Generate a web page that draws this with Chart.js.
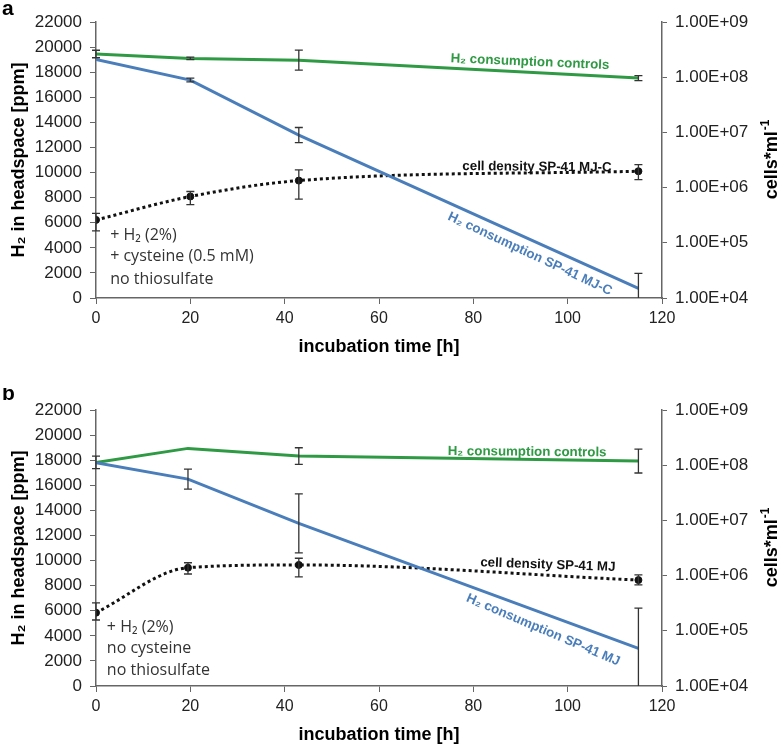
<!DOCTYPE html>
<html>
<head>
<meta charset="utf-8">
<script src="https://cdn.jsdelivr.net/npm/chart.js@4.4.1/dist/chart.umd.min.js"></script>
<style>
  body { margin: 0; background: #fff; }
  #wrap { position: relative; width: 780px; height: 746px; }
  canvas { position: absolute; left: 0; }
  #chartA { top: 0; }
  #chartB { top: 388px; }
</style>
</head>
<body>
<div id="wrap">
  <canvas id="chartA" width="780" height="388"></canvas>
  <canvas id="chartB" width="780" height="358"></canvas>
</div>
<script>
// DATA - panel a (SP-41 MJ-C, with cysteine)
const hoursA = [0, 20, 43, 115];
const controlsA = [19450, 19100, 18960, 17530];
const controlsErrA = [300, 100, 800, 200];
const consumptionA = [19020, 17370, 12990, 770];
const consumptionErrA = [0, 150, 600, 1200];
const cellsA = [2.6e5, 6.9e5, 1.34e6, 1.98e6];
const cellsLowA = [1.65e5, 4.9e5, 6.2e5, 1.4e6];
const cellsHighA = [3.4e5, 8.5e5, 2.1e6, 2.6e6];

// DATA - panel b (SP-41 MJ, no cysteine)
const hoursB = [0, 19.5, 43, 115];
const controlsB = [17820, 18940, 18330, 17930];
const controlsErrB = [500, 0, 660, 950];
const consumptionB = [17800, 16490, 12960, 3000];
const consumptionErrB = [0, 800, 2350, 3200];
const cellsB = [2.13e5, 1.39e6, 1.56e6, 8.3e5];
const cellsLowB = [1.57e5, 1.07e6, 9.5e5, 6.8e5];
const cellsHighB = [3.2e5, 1.71e6, 2.06e6, 1.03e6];

// AXES
const hourTicks = [0, 20, 40, 60, 80, 100, 120];
const ppmMax = 22000;
const ppmStep = 2000;
const cellTicks = [1e4, 1e5, 1e6, 1e7, 1e8, 1e9];

const GREEN = "#2e9a43";
const BLUE = "#4a7ebb";
const DARK = "#111";
const AXIS = "#666";
const SANS = "'Liberation Sans', Arial, sans-serif";

function points(xs, ys) {
  return xs.map((x, i) => ({ x: x, y: ys[i] }));
}

function formatCells(v) {
  const exp = Math.round(Math.log10(v));
  return "1.00E+" + String(exp).padStart(2, "0");
}

// ERROR BARS
const errorBarPlugin = {
  id: "errorBars",
  afterDatasetsDraw(chart) {
    const ctx = chart.ctx;
    const area = chart.chartArea;
    const xs = chart.scales.x;
    ctx.save();
    ctx.strokeStyle = "#333";
    ctx.lineWidth = 1.3;
    chart.data.datasets.forEach((ds) => {
      if (!ds.errLow) return;
      const ys = chart.scales[ds.yAxisID];
      ds.data.forEach((p, i) => {
        const lo = ds.errLow[i];
        const hi = ds.errHigh[i];
        if (lo === hi) return;
        const px = xs.getPixelForValue(p.x);
        const top = ys.getPixelForValue(hi);
        let bottom = ys.getPixelForValue(lo);
        const clipped = bottom > area.bottom;
        if (clipped) bottom = area.bottom;
        ctx.beginPath();
        ctx.moveTo(px, top);
        ctx.lineTo(px, bottom);
        ctx.moveTo(px - 4, top);
        ctx.lineTo(px + 4, top);
        if (!clipped) {
          ctx.moveTo(px - 4, bottom);
          ctx.lineTo(px + 4, bottom);
        }
        ctx.stroke();
      });
    });
    ctx.restore();
  },
};

// TEXT NOTES
const notesPlugin = {
  id: "notes",
  afterDraw(chart, args, opts) {
    const ctx = chart.ctx;
    const xs = chart.scales.x;
    const ys = chart.scales.y;
    const area = chart.chartArea;
    ctx.save();
    (opts.items || []).forEach((n) => {
      const px = xs.getPixelForValue(n.x);
      const py = ys.getPixelForValue(n.y);
      ctx.save();
      ctx.translate(px, py);
      ctx.rotate(((n.rotate || 0) * Math.PI) / 180);
      ctx.font = n.font;
      ctx.fillStyle = n.color;
      ctx.textAlign = n.align || "center";
      ctx.textBaseline = "middle";
      ctx.fillText(n.text, 0, 0);
      ctx.restore();
    });
    // panel letter
    ctx.font = "bold 21px " + SANS;
    ctx.fillStyle = "#000";
    ctx.textAlign = "left";
    ctx.textBaseline = "alphabetic";
    ctx.fillText(opts.letter, 2, opts.letterY);
    // right axis title (reads bottom to top), small raised exponent
    ctx.translate(777, (area.top + area.bottom) / 2);
    ctx.rotate(-Math.PI / 2);
    ctx.font = "bold 18px " + SANS;
    const main = "cells*ml";
    const w1 = ctx.measureText(main).width;
    ctx.font = "bold 12px " + SANS;
    const w2 = ctx.measureText("-1").width;
    const start = -(w1 + w2) / 2;
    ctx.font = "bold 18px " + SANS;
    ctx.fillText(main, start, 0);
    ctx.font = "bold 12px " + SANS;
    ctx.fillText("-1", start + w1 + 1, -8);
    ctx.restore();
  },
};

function makePanel(id, d, bottomPad, notes, letter, letterY) {
  return new Chart(document.getElementById(id), {
    type: "line",
    data: {
      datasets: [
        {
          label: "H\u2082 consumption",
          data: points(d.hours, d.consumption),
          errLow: d.consumption.map((v, i) => v - d.consumptionErr[i]),
          errHigh: d.consumption.map((v, i) => v + d.consumptionErr[i]),
          borderColor: BLUE,
          borderWidth: 3,
          pointRadius: 0,
          yAxisID: "y",
        },
        {
          label: "H\u2082 consumption controls",
          data: points(d.hours, d.controls),
          errLow: d.controls.map((v, i) => v - d.controlsErr[i]),
          errHigh: d.controls.map((v, i) => v + d.controlsErr[i]),
          borderColor: GREEN,
          borderWidth: 3,
          pointRadius: 0,
          yAxisID: "y",
        },
        {
          label: "cell density",
          data: points(d.hours, d.cells),
          errLow: d.cellsLow,
          errHigh: d.cellsHigh,
          borderColor: DARK,
          borderWidth: 3,
          borderDash: [3, 3],
          cubicInterpolationMode: "monotone",
          pointRadius: 3.5,
          pointBorderWidth: 1,
          pointBackgroundColor: DARK,
          pointBorderColor: DARK,
          yAxisID: "y2",
        },
      ],
    },
    options: {
      responsive: false,
      animation: false,
      layout: { padding: { top: 22, bottom: bottomPad, left: 0, right: 0 } },
      plugins: {
        legend: { display: false },
        tooltip: { enabled: false },
        notes: { items: notes, letter: letter, letterY: letterY },
      },
      scales: {
        x: {
          type: "linear",
          min: 0,
          max: 120,
          afterBuildTicks: (s) => {
            s.ticks = hourTicks.map((v) => ({ value: v }));
          },
          afterFit: (s) => {
            s.height = 60;
          },
          ticks: { font: { size: 16, family: SANS }, color: "#222", padding: 5 },
          grid: { drawOnChartArea: false, tickLength: 6, color: AXIS },
          border: { color: AXIS, width: 1.5 },
          title: {
            display: true,
            text: "incubation time [h]",
            font: { size: 18, weight: "bold", family: SANS },
            color: "#000",
            padding: 0,
          },
        },
        y: {
          position: "left",
          min: 0,
          max: ppmMax,
          ticks: {
            stepSize: ppmStep,
            font: { size: 17, family: SANS },
            color: "#222",
            padding: 8,
            callback: (v) => String(v),
          },
          afterFit: (s) => {
            s.width = 96;
          },
          grid: { drawOnChartArea: false, tickLength: 6, color: AXIS },
          border: { color: AXIS, width: 1.5 },
          title: {
            display: true,
            text: "H\u2082 in headspace [ppm]",
            font: { size: 18, weight: "bold", family: SANS },
            color: "#000",
            padding: 8,
          },
        },
        y2: {
          type: "logarithmic",
          position: "right",
          min: cellTicks[0],
          max: cellTicks[cellTicks.length - 1],
          afterBuildTicks: (s) => {
            s.ticks = cellTicks.map((v) => ({ value: v }));
          },
          afterFit: (s) => {
            s.width = 118;
          },
          ticks: {
            font: { size: 17, family: SANS },
            color: "#222",
            padding: 8,
            callback: (v) => formatCells(v),
          },
          grid: { drawOnChartArea: false, tickLength: 5, color: AXIS },
          border: { color: AXIS, width: 1.5 },
        },
      },
    },
    plugins: [errorBarPlugin, notesPlugin],
  });
}

const labelFont = "bold 13.3px " + SANS;
const sideFont = "16px 'Open Sans', sans-serif";

makePanel(
  "chartA",
  {
    hours: hoursA,
    controls: controlsA,
    controlsErr: controlsErrA,
    consumption: consumptionA,
    consumptionErr: consumptionErrA,
    cells: cellsA,
    cellsLow: cellsLowA,
    cellsHigh: cellsHighA,
  },
  30,
  [
    { text: "H\u2082 consumption controls", x: 92, y: 18810, rotate: 2.5, font: labelFont, color: GREEN },
    { text: "cell density SP-41 MJ-C", x: 93.5, y: 10440, rotate: 0.5, font: labelFont, color: DARK },
    { text: "H\u2082 consumption SP-41 MJ-C", x: 92, y: 3510, rotate: 25, font: labelFont, color: BLUE },
    { text: "+ H\u2082 (2%)", x: 3, y: 5020, align: "left", font: sideFont, color: "#333" },
    { text: "+ cysteine (0.5 mM)", x: 3, y: 3350, align: "left", font: sideFont, color: "#333" },
    { text: "no thiosulfate", x: 3, y: 1510, align: "left", font: sideFont, color: "#333" },
  ],
  "a",
  15
);

makePanel(
  "chartB",
  {
    hours: hoursB,
    controls: controlsB,
    controlsErr: controlsErrB,
    consumption: consumptionB,
    consumptionErr: consumptionErrB,
    cells: cellsB,
    cellsLow: cellsLowB,
    cellsHigh: cellsHighB,
  },
  0,
  [
    { text: "H\u2082 consumption controls", x: 91.4, y: 18650, rotate: 0.5, font: labelFont, color: GREEN },
    { text: "cell density SP-41 MJ", x: 95.8, y: 9650, rotate: 2, font: labelFont, color: DARK },
    { text: "H\u2082 consumption SP-41 MJ", x: 94.8, y: 4460, rotate: 23, font: labelFont, color: BLUE },
    { text: "+ H\u2082 (2%)", x: 2.3, y: 4700, align: "left", font: sideFont, color: "#333" },
    { text: "no cysteine", x: 2.3, y: 3030, align: "left", font: sideFont, color: "#333" },
    { text: "no thiosulfate", x: 2.3, y: 1280, align: "left", font: sideFont, color: "#333" },
  ],
  "b",
  12
);
</script>
</body>
</html>
